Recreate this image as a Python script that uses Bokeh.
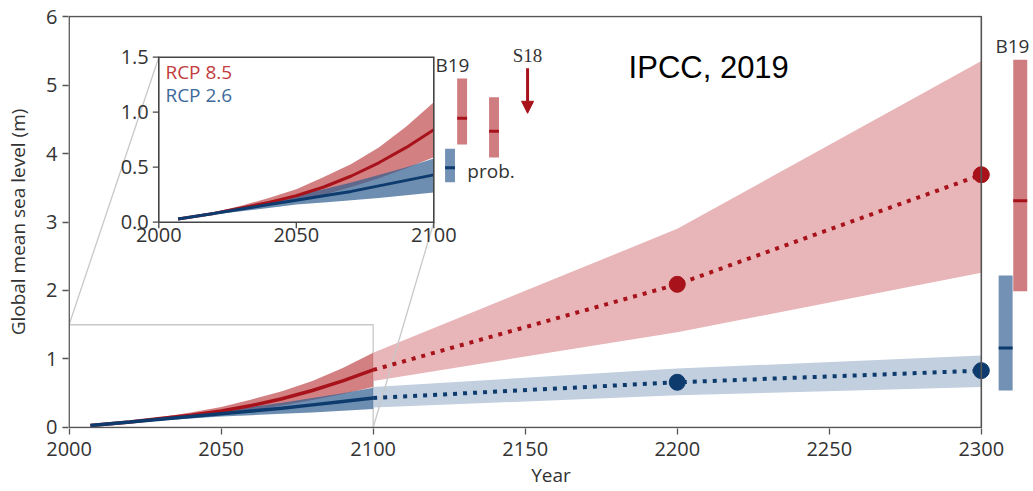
import numpy as np
from bokeh.plotting import figure
from bokeh.models import Range1d, FixedTicker, Arrow, NormalHead
from bokeh.core.properties import value
from bokeh.embed import file_html
from bokeh.resources import INLINE

# ---------------- data ----------------
years_hist = [2007, 2020, 2030, 2040, 2050, 2060, 2070, 2080, 2090, 2100]
rcp85_med = [0.03, 0.08, 0.13, 0.18, 0.24, 0.32, 0.42, 0.54, 0.68, 0.84]
rcp85_lo = [0.025, 0.07, 0.11, 0.15, 0.20, 0.25, 0.32, 0.40, 0.49, 0.59]
rcp85_hi = [0.035, 0.09, 0.15, 0.22, 0.30, 0.41, 0.53, 0.68, 0.87, 1.09]
rcp26_med = [0.03, 0.08, 0.12, 0.16, 0.20, 0.24, 0.28, 0.33, 0.38, 0.43]
rcp26_lo = [0.025, 0.07, 0.10, 0.13, 0.16, 0.18, 0.20, 0.22, 0.245, 0.27]
rcp26_hi = [0.035, 0.09, 0.14, 0.19, 0.245, 0.30, 0.36, 0.43, 0.50, 0.58]

years_ext = [2100, 2200, 2300]
rcp85_ext_med = [0.84, 2.09, 3.69]
rcp85_ext_lo = [0.68, 1.39, 2.26]
rcp85_ext_hi = [1.09, 2.90, 5.35]
rcp26_ext_med = [0.43, 0.66, 0.83]
rcp26_ext_lo = [0.29, 0.47, 0.59]
rcp26_ext_hi = [0.59, 0.86, 1.05]

# B19 ranges at 2300 (main panel): [RCP2.6, RCP8.5]
b19_2300_x = [2308.0, 2312.8]
b19_2300_lo = [0.54, 1.99]
b19_2300_med = [1.16, 3.31]
b19_2300_hi = [2.22, 5.37]

# inset side bars at 2100: [prob. RCP2.6, B19 RCP8.5, prob. RCP8.5]
inset_bar_x = [2105.9, 2110.3, 2121.9]
inset_bar_lo = [0.364, 0.706, 0.588]
inset_bar_med = [0.495, 0.945, 0.827]
inset_bar_hi = [0.667, 1.306, 1.136]
s18_arrow_x = 2134.1
s18_arrow_y = [1.40, 0.99]

x_ticks = [2000, 2050, 2100, 2150, 2200, 2250, 2300]
y_ticks = [0, 1, 2, 3, 4, 5, 6]
inset_x_ticks = [2000, 2050, 2100]
inset_y_ticks = [0.0, 0.5, 1.0, 1.5]
inset_y_labels = ["0.0", "0.5", "1.0", "1.5"]

# ---------------- colours ----------------
RED = "#A8121A"
BLUE = "#0D3B6E"
RED_BAND_H = "#C04A4E"
BLUE_BAND_H = "#2F5E8E"
RED_BAND_E = "#E8B6B8"
BLUE_BAND_E = "#C2CFDF"
RED_BAR = "#D07D81"
BLUE_BAR = "#7391B4"
GRAY = "#C8C8C8"
FRAME = "#555555"
TXT = "#333333"
FONT = "Open Sans"

# ---------------- geometry ----------------
W, H = 1033, 491
BL, BR, BT, BB = 68, 0, 15, 63
FW = W - BL - BR
FH = H - BT - BB

MX = 3.0407   # px per year (main)
MY = 68.49    # px per metre (main)
x0 = 1999.8
y0 = -0.015
main_xr = Range1d(x0, x0 + FW / MX)
main_yr = Range1d(y0, y0 + FH / MY)

IX = 2.75     # px per year (inset)
IY = 110.0    # px per metre (inset)
ins_left_px = 158.3   # canvas x of inset year 2000
ins_zero_px = 221.7   # canvas y of inset 0.0
ix0 = 2000 - (ins_left_px - BL) / IX
iy0 = 0 - (BT + FH - ins_zero_px) / IY
inset_xr = Range1d(ix0, ix0 + FW / IX)
inset_yr = Range1d(iy0, iy0 + FH / IY)


def inset_to_main(xi, yi):
    px = (xi - ix0) * IX
    py = (yi - iy0) * IY
    return x0 + px / MX, y0 + py / MY


p = figure(width=W, height=H, x_range=main_xr, y_range=main_yr,
           output_backend="svg", toolbar_location=None,
           min_border_left=BL, min_border_right=BR,
           min_border_top=BT, min_border_bottom=BB,
           outline_line_color=None, background_fill_color="white",
           border_fill_color="white")
p.extra_x_ranges = {"ix": inset_xr}
p.extra_y_ranges = {"iy": inset_yr}
p.grid.visible = False

p.xaxis.ticker = FixedTicker(ticks=x_ticks)
p.yaxis.ticker = FixedTicker(ticks=y_ticks)
p.xaxis.axis_label = "Year"
p.yaxis.axis_label = "Global mean sea level (m)"
for ax in (p.xaxis[0], p.yaxis[0]):
    ax.axis_line_color = None
    ax.major_tick_out = 6
    ax.major_tick_in = 0
    ax.minor_tick_line_color = None
    ax.major_tick_line_color = FRAME
    ax.major_tick_line_width = 1.3
    ax.major_label_text_font = FONT
    ax.major_label_text_font_size = "20px"
    ax.major_label_text_color = TXT
    ax.axis_label_text_font = FONT
    ax.axis_label_text_font_size = "19px"
    ax.axis_label_text_font_style = "normal"
    ax.axis_label_text_color = TXT
p.xaxis.major_label_standoff = 7
p.xaxis.axis_label_standoff = 3
p.yaxis.major_label_standoff = 5
p.yaxis.axis_label_standoff = 12

# ---------- main panel ----------
zx0, zx1 = inset_x_ticks[0], inset_x_ticks[-1]
zy0, zy1 = inset_y_ticks[0], inset_y_ticks[-1]
p.line([zx0, zx1, zx1], [zy1, zy1, zy0], line_color=GRAY, line_width=1.3)
c1 = inset_to_main(zx0, zy1)
c2 = inset_to_main(zx1, zy0)
p.segment(x0=[zx0], y0=[zy1], x1=[c1[0]], y1=[c1[1]], line_color=GRAY, line_width=1.3)

p.varea(x=years_ext, y1=rcp85_ext_lo, y2=rcp85_ext_hi, fill_color=RED_BAND_E)
p.varea(x=years_ext, y1=rcp26_ext_lo, y2=rcp26_ext_hi, fill_color=BLUE_BAND_E)
p.segment(x0=[zx1], y0=[zy0], x1=[c2[0]], y1=[c2[1]], line_color=GRAY, line_width=1.3)
p.varea(x=years_hist, y1=rcp85_lo, y2=rcp85_hi, fill_color=RED_BAND_H, fill_alpha=0.7)
p.varea(x=years_hist, y1=rcp26_lo, y2=rcp26_hi, fill_color=BLUE_BAND_H, fill_alpha=0.7)

p.line(years_hist, rcp85_med, line_color=RED, line_width=3.5)
p.line(years_hist, rcp26_med, line_color=BLUE, line_width=3.5)
p.line(years_ext, rcp85_ext_med, line_color=RED, line_width=4, line_dash="4 6")
p.line(years_ext, rcp26_ext_med, line_color=BLUE, line_width=4, line_dash="4 6")
p.scatter(years_ext[1:], rcp85_ext_med[1:], size=16, color=RED)
p.scatter(years_ext[1:], rcp26_ext_med[1:], size=16, color=BLUE)

bw = 4.6
p.vbar(x=b19_2300_x, width=bw, bottom=b19_2300_lo, top=b19_2300_hi,
       fill_color=[BLUE_BAR, RED_BAR], line_color=None)
p.segment(x0=[v - bw / 2 for v in b19_2300_x], x1=[v + bw / 2 for v in b19_2300_x],
          y0=b19_2300_med, y1=b19_2300_med, line_color=[BLUE, RED], line_width=3)
p.text(x=[2310.25], y=[5.577], text=["B19"], text_align="center", text_baseline="middle",
       text_font=value(FONT), text_font_size="19px", text_color=TXT)

p.line([x_ticks[0], x_ticks[0], x_ticks[-1], x_ticks[-1], x_ticks[0]],
       [y_ticks[0], y_ticks[-1], y_ticks[-1], y_ticks[0], y_ticks[0]],
       line_color=FRAME, line_width=1.6, line_join="miter")

p.text(x=[2184], y=[5.25], text=["IPCC, 2019"], text_align="left", text_baseline="middle",
       text_font=value("Liberation Sans"), text_font_size="31px", text_color="black")

# ---------- inset ----------
R = dict(x_range_name="ix", y_range_name="iy")
p.varea(x=years_hist, y1=rcp85_lo, y2=rcp85_hi, fill_color=RED_BAND_H, fill_alpha=0.7, **R)
p.varea(x=years_hist, y1=rcp26_lo, y2=rcp26_hi, fill_color=BLUE_BAND_H, fill_alpha=0.7, **R)
p.line(years_hist, rcp85_med, line_color=RED, line_width=3, **R)
p.line(years_hist, rcp26_med, line_color=BLUE, line_width=3, **R)

p.line([zx0, zx0, zx1, zx1, zx0], [zy0, zy1, zy1, zy0, zy0],
       line_color="#444444", line_width=1.6, line_join="miter", **R)
tl = 6
p.segment(x0=[zx0] * len(inset_y_ticks), x1=[zx0 - tl / IX] * len(inset_y_ticks),
          y0=inset_y_ticks, y1=inset_y_ticks, line_color="#444444", line_width=1.3, **R)
p.segment(x0=inset_x_ticks, x1=inset_x_ticks, y0=[zy0] * len(inset_x_ticks),
          y1=[zy0 - tl / IY] * len(inset_x_ticks), line_color="#444444", line_width=1.3, **R)
p.text(x=[zx0 - 10 / IX] * len(inset_y_ticks), y=inset_y_ticks, text=inset_y_labels,
       text_align="right", text_baseline="middle", text_font=value(FONT),
       text_font_size="20px", text_color=TXT, **R)
p.text(x=inset_x_ticks, y=[zy0 - 6 / IY] * len(inset_x_ticks), text=[str(t) for t in inset_x_ticks],
       text_align="center", text_baseline="top", text_font=value(FONT),
       text_font_size="20px", text_color=TXT, **R)

p.text(x=[2002.4, 2002.4], y=[1.364, 1.152], text=["RCP 8.5", "RCP 2.6"],
       text_color=["#C23B3E", "#41699A"], text_align="left", text_baseline="middle",
       text_font=value(FONT), text_font_size="19px", **R)

ibw = 3.6
p.vbar(x=inset_bar_x, width=ibw, bottom=inset_bar_lo, top=inset_bar_hi,
       fill_color=[BLUE_BAR, RED_BAR, RED_BAR], line_color=None, **R)
p.segment(x0=[v - ibw / 2 for v in inset_bar_x], x1=[v + ibw / 2 for v in inset_bar_x],
          y0=inset_bar_med, y1=inset_bar_med, line_color=[BLUE, RED, RED], line_width=3, **R)
p.text(x=[2100.6], y=[1.425], text=["B19"], text_align="left", text_baseline="middle",
       text_font=value(FONT), text_font_size="19px", text_color=TXT, **R)
p.text(x=[2112.2], y=[0.47], text=["prob."], text_align="left", text_baseline="middle",
       text_font=value(FONT), text_font_size="19px", text_color=TXT, **R)
p.text(x=[s18_arrow_x], y=[1.515], text=["S18"], text_align="center", text_baseline="middle",
       text_font=value("Liberation Serif"), text_font_size="19px", text_color=TXT, **R)
p.add_layout(Arrow(end=NormalHead(size=12, fill_color=RED, line_color=RED),
                   x_start=s18_arrow_x, y_start=s18_arrow_y[0],
                   x_end=s18_arrow_x, y_end=s18_arrow_y[1],
                   line_color=RED, line_width=3, **R))

open("out.html", "w").write(file_html(p, INLINE))
